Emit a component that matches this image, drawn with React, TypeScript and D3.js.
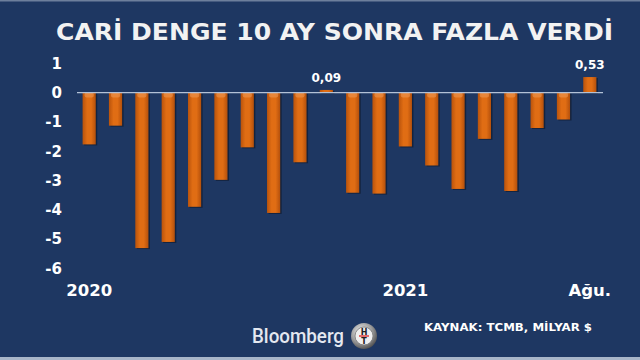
import {scaleBand, scaleLinear} from "d3";

// aylık cari denge, milyar $ (Oca 2020 - Ağu 2021)
const months = [
    "2020-01", "2020-02", "2020-03", "2020-04", "2020-05", "2020-06", "2020-07", "2020-08", "2020-09", "2020-10",
    "2020-11", "2020-12", "2021-01", "2021-02", "2021-03", "2021-04", "2021-05", "2021-06", "2021-07", "2021-08"
];
const balance = [
    -1.77, -1.13, -5.31, -5.10, -3.90, -2.98, -1.87, -4.11, -2.38, 0.09,
    -3.42, -3.45, -1.84, -2.49, -3.29, -1.58, -3.36, -1.21, -0.92, 0.53
];
const xTickLabels = [
    {month: "2020-01", label: "2020"},
    {month: "2021-01", label: "2021"},
    {month: "2021-08", label: "Ağu."}
];
const valueLabels = [
    {month: "2020-10", label: "0,09"},
    {month: "2021-08", label: "0,53"}
];
const title = "CARİ DENGE 10 AY SONRA FAZLA VERDİ";
const source = "KAYNAK: TCMB, MİLYAR $";

const W = 640;
const H = 360;
const BG = "#1e3762";
const FONT = "'DejaVu Sans', Verdana, sans-serif";

export default function App() {
    const x = scaleBand<string>()
        .domain(months)
        .range([76, 603])
        .paddingInner(0.5)
        .paddingOuter(0.25);
    const y = scaleLinear()
        .domain([-6, 1])
        .range([268.3, 63.3]);
    const y0 = y(0);
    const bw = x.bandwidth();

    return <svg width={W} height={H} style={{position: "fixed", left: 0, top: 0, display: "block"}}>
        <defs>
            <linearGradient id="barFill" x1="0" x2="1" y1="0" y2="0">
                <stop offset="0" stopColor="#b9530c"/>
                <stop offset="0.35" stopColor="#e06d14"/>
                <stop offset="0.65" stopColor="#e06d14"/>
                <stop offset="1" stopColor="#b4500c"/>
            </linearGradient>
            <radialGradient id="ring" cx="0.4" cy="0.35" r="0.7">
                <stop offset="0" stopColor="#f4f4f4"/>
                <stop offset="0.6" stopColor="#9a9a9a"/>
                <stop offset="1" stopColor="#4a4a4a"/>
            </radialGradient>
        </defs>
        <rect x={0} y={0} width={W} height={H} fill={BG}/>
        <rect x={0} y={0} width={W} height={1.5} fill="#6d7f9c"/>
        <rect x={0} y={357} width={W} height={3} fill="#a8b5c8"/>

        <text x={56} y={39.5} fill="#f2f2f2" fontFamily={FONT} fontWeight="bold" fontSize={23}
              textLength={557} lengthAdjust="spacingAndGlyphs">{title}</text>

        {y.ticks(7).map(t => (
            <text key={t} x={62} y={y(t)} dy="0.36em" textAnchor="end" fill="#ffffff"
                  fontFamily={FONT} fontWeight="bold" fontSize={15}>{String(t)}</text>
        ))}

        {months.map((m, i) => {
            const v = balance[i];
            const top = Math.min(y(v), y0);
            const h = Math.abs(y(v) - y0);
            const bx = x(m) ?? 0;
            return <g key={m}>
                <rect x={bx + 1.5} y={top + 1} width={bw} height={h} fill="#000" opacity={0.35}/>
                <rect x={bx} y={top} width={bw} height={h} fill="url(#barFill)"/>
                {v < 0 && <rect x={bx + 2} y={y0} width={bw - 4} height={Math.min(5, h)} fill="#f09a55" opacity={0.55} rx={2}/>}
            </g>;
        })}

        <line x1={77} x2={603} y1={y0} y2={y0} stroke="#b3c1d6" strokeWidth={1.2}/>

        {valueLabels.map(d => {
            const v = balance[months.indexOf(d.month)];
            return <text key={d.month} x={(x(d.month) ?? 0) + bw / 2} y={y(v) - 8} textAnchor="middle"
                         fill="#ffffff" fontFamily={FONT} fontWeight="bold" fontSize={12}>{d.label}</text>;
        })}

        {xTickLabels.map(d => (
            <text key={d.month} x={(x(d.month) ?? 0) + bw / 2} y={295.5} textAnchor="middle" fill="#ffffff"
                  fontFamily={FONT} fontWeight="bold" fontSize={16.5}>{d.label}</text>
        ))}

        <text x={252} y={343} fill="#e4e8f0" fontFamily="Roboto, 'Open Sans', sans-serif" fontWeight={500}
              fontSize={19.5} textLength={92} lengthAdjust="spacingAndGlyphs">Bloomberg</text>
        <g transform="translate(364,336)">
            <circle r={13} fill="url(#ring)"/>
            <circle r={9} fill="#efefef" stroke="#777" strokeWidth={0.8}/>
            <text y={-1.5} textAnchor="middle" fill="#222" fontFamily={FONT} fontWeight="bold" fontSize={8}>H</text>
            <line x1={-5} x2={5} y1={0} y2={0} stroke="#d22" strokeWidth={1.3}/>
            <text y={8} textAnchor="middle" fill="#222" fontFamily={FONT} fontWeight="bold" fontSize={8}>T</text>
        </g>

        <text x={424} y={331} fill="#ffffff" fontFamily={FONT} fontWeight="bold" fontSize={11}
              textLength={168} lengthAdjust="spacingAndGlyphs">{source}</text>
    </svg>;
}
